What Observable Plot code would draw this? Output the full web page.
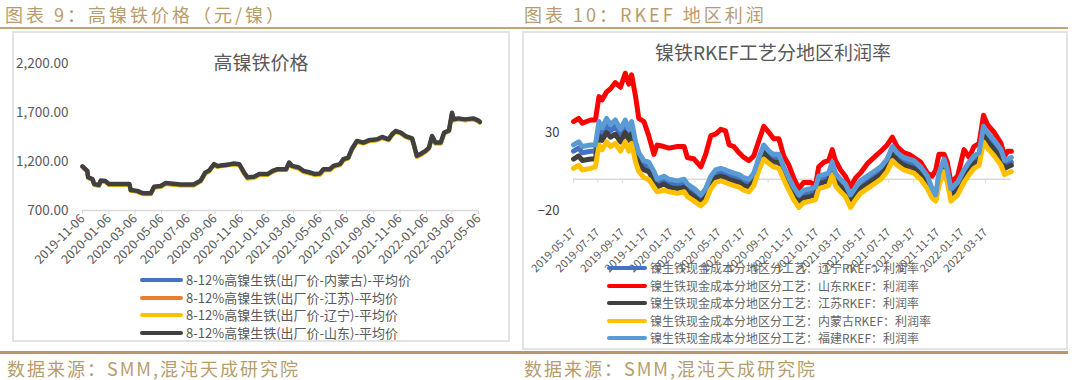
<!DOCTYPE html>
<html><head><meta charset="utf-8">
<script src="https://cdn.jsdelivr.net/npm/d3@7"></script>
<script src="https://cdn.jsdelivr.net/npm/@observablehq/plot@0.6"></script>
<style>
body{margin:0;background:#fff;width:1080px;height:380px;overflow:hidden;position:relative;font-family:"Noto Sans CJK SC",sans-serif;}
.abs{position:absolute;}
.hdr{font-size:18px;line-height:24px;color:#b79d6e;letter-spacing:3px;white-space:nowrap;}
.rule{background:#c2a574;}
.box{border:2px solid #e3e3e3;box-sizing:border-box;}
.ttl{font-size:19px;line-height:26px;color:#595959;white-space:nowrap;transform:translateX(-50%);}
.row{position:absolute;white-space:nowrap;display:flex;align-items:center;height:16px;line-height:16px;}
.sw{display:inline-block;height:4px;border-radius:2px;margin-right:3px;}
.ftr{font-size:18px;line-height:24px;color:#b79d6e;letter-spacing:2px;white-space:nowrap;}
</style></head><body>
<div class="abs hdr" style="left:5px;top:2px;">图表 9：高镍铁价格（元/镍）</div>
<div class="abs hdr" style="left:524px;top:2px;">图表 10：RKEF 地区利润</div>
<div class="abs rule" style="left:0;top:27px;width:1068px;height:2px;"></div>
<div class="abs box" style="left:12px;top:31px;width:498px;height:311px;"></div>
<div class="abs box" style="left:522px;top:31px;width:546px;height:319px;"></div>
<div id="left" class="abs" style="left:13px;top:32px;"></div>
<div id="right" class="abs" style="left:523px;top:32px;"></div>
<div class="abs ttl" style="left:261px;top:49px;">高镍铁价格</div>
<div class="abs ttl" style="left:773px;top:39px;">镍铁RKEF工艺分地区利润率</div>
<div id="legL" class="abs" style="left:140px;top:0;font-size:13px;color:#595959;"></div>
<div id="legR" class="abs" style="left:607px;top:0;font-size:12px;color:#666;"></div>
<div class="abs rule" style="left:0;top:351px;width:1068px;height:3px;background:#b8976a;"></div>
<div class="abs ftr" style="left:7px;top:356px;">数据来源：SMM,混沌天成研究院</div>
<div class="abs ftr" style="left:524px;top:356px;">数据来源：SMM,混沌天成研究院</div>
<script>
// ---------- Chart 9: high nickel pig iron price ----------
const priceDates = ["2019-11-06","2019-11-17","2019-11-19","2019-11-29","2019-12-03","2019-12-14","2019-12-18","2019-12-29","2020-01-06","2020-02-22",
"2020-02-25","2020-03-11","2020-03-19","2020-03-26","2020-04-11","2020-04-19","2020-05-04","2020-05-15","2020-06-19","2020-07-19",
"2020-08-04","2020-08-15","2020-08-23","2020-09-04","2020-09-12","2020-10-12","2020-10-20","2020-11-01","2020-11-12","2020-11-20",
"2020-12-05","2020-12-17","2021-01-05","2021-01-17","2021-01-28","2021-02-17","2021-02-24","2021-03-03","2021-03-18","2021-03-29",
"2021-04-13","2021-04-25","2021-05-06","2021-05-14","2021-05-29","2021-06-06","2021-06-21","2021-06-29","2021-07-10","2021-07-18",
"2021-07-30","2021-08-14","2021-08-26","2021-09-15","2021-09-26","2021-10-11","2021-10-19","2021-10-27","2021-11-08","2021-11-19",
"2021-12-04","2021-12-08","2021-12-15","2021-12-23","2022-01-04","2022-01-12","2022-01-19","2022-01-27","2022-02-08","2022-02-16",
"2022-02-27","2022-03-06","2022-03-10","2022-03-20","2022-04-05","2022-04-24","2022-05-05","2022-05-09"];
const priceNeimenggu = [1143,1098,1034,1013,963,953,998,993,963,963, 903,893,878,868,868,936,943,973,958,958, 998,1081,1098,1166,1148,1166,1173,1166,1080,1028, 1036,1064,1065,1098,1115,1115,1183,1147,1131,1097, 1080,1064,1070,1114,1115,1148,1166,1216,1233,1318, 1403,1386,1409,1420,1443,1420,1471,1504,1488,1453, 1430,1368,1250,1268,1302,1335,1453,1386,1386,1488, 1510,1689,1622,1633,1622,1632,1612,1597];
const priceJiangsu = [1146,1101,1036,1016,966,956,1001,996,966,966, 906,896,881,871,871,939,946,976,961,961, 1001,1084,1101,1169,1151,1169,1176,1169,1084,1034, 1041,1068,1068,1101,1118,1118,1186,1151,1135,1101, 1084,1068,1074,1118,1118,1151,1169,1220,1236,1321, 1406,1389,1412,1423,1446,1423,1474,1507,1491,1456, 1433,1372,1254,1271,1305,1338,1456,1389,1389,1491, 1513,1693,1626,1636,1626,1636,1616,1601];
const priceLiaoning = [1142,1097,1032,1010,962,950,995,990,960,960, 900,890,875,865,865,933,940,970,955,955, 995,1078,1095,1163,1145,1163,1170,1163,1076,1024, 1032,1060,1061,1095,1111,1112,1179,1143,1126,1092, 1074,1059,1064,1109,1110,1144,1162,1212,1229,1314, 1399,1382,1405,1416,1439,1416,1467,1501,1484,1450, 1426,1364,1247,1264,1298,1331,1449,1382,1382,1484, 1506,1685,1618,1629,1619,1629,1609,1594];
const priceShandong = [1150,1105,1040,1020,970,960,1005,1000,970,970, 910,900,885,875,875,943,950,980,965,965, 1005,1088,1105,1173,1155,1173,1180,1173,1088,1038, 1045,1072,1072,1105,1122,1122,1190,1155,1139,1105, 1088,1072,1078,1122,1122,1155,1173,1224,1240,1325, 1410,1393,1416,1427,1450,1427,1478,1511,1495,1460, 1437,1376,1258,1275,1309,1342,1460,1393,1393,1495, 1517,1697,1630,1640,1630,1640,1620,1605];
const priceSeriesNames = ["8-12%高镍生铁(出厂价-内蒙古)-平均价","8-12%高镍生铁(出厂价-江苏)-平均价","8-12%高镍生铁(出厂价-辽宁)-平均价","8-12%高镍生铁(出厂价-山东)-平均价"];
const priceColors = ["#4472c4","#ed7d31","#ffc000","#404040"];
const priceTicks = ["2019-11-06","2020-01-06","2020-03-06","2020-05-06","2020-07-06","2020-09-06","2020-11-06","2021-01-06","2021-03-06","2021-05-06","2021-07-06","2021-09-06","2021-11-06","2022-01-06","2022-03-06","2022-05-06"];
const priceYTicks = [700,1200,1700,2200];

// ---------- Chart 10: RKEF regional profit ----------
const profitDates = ["2019-05-17","2019-05-30","2019-06-08","2019-06-29","2019-07-11","2019-07-20","2019-07-28","2019-08-08","2019-08-18","2019-08-30",
"2019-09-12","2019-09-24","2019-10-03","2019-10-10","2019-10-20","2019-10-28","2019-11-10","2019-11-22","2019-12-05","2019-12-13",
"2019-12-30","2020-01-12","2020-02-02","2020-02-19","2020-02-27","2020-03-15","2020-04-01","2020-04-13","2020-04-26","2020-05-08",
"2020-05-21","2020-06-02","2020-06-11","2020-06-23","2020-07-06","2020-07-18","2020-07-31","2020-08-12","2020-08-25","2020-09-06",
"2020-09-19","2020-10-01","2020-10-14","2020-10-26","2020-11-08","2020-11-20","2020-12-03","2020-12-15","2021-01-01","2021-01-14",
"2021-01-22","2021-02-04","2021-02-16","2021-02-25","2021-03-05","2021-03-18","2021-03-30","2021-04-12","2021-04-25","2021-05-07",
"2021-05-24","2021-06-10","2021-06-27","2021-07-13","2021-07-26","2021-08-07","2021-08-24","2021-09-06","2021-09-18","2021-10-05",
"2021-10-22","2021-11-03","2021-11-12","2021-11-20","2021-12-03","2021-12-11","2021-12-20","2022-01-06","2022-01-22","2022-02-04",
"2022-02-16","2022-03-01","2022-03-12","2022-03-22","2022-04-08","2022-04-25","2022-05-04","2022-05-12","2022-05-21"];
const profitLiaoning = [18,20,17,18,18,33,29,35,31,34, 29,34,29,33,21,14,9,8,2,-2, 0,-2,-3,-2,-5,-8,-12,-8,0,4, 5,4,3,2,1,-1,-2,2,12,20, 16,14,14,6,-1,-7,-12,-9,-8,-7, 0,1,2,9,2,-2,-5,-12,-7,-3, 0,3,6,11,19,15,12,11,10,6, 0,-8,-12,2,11,4,-8,-4,4,9, 13,15,31,27,22,16,9,10,11];
const profitShandong = [37,39,36,38,38,53,51,56,58,62, 59,68,61,67,53,39,37,28,16,22, 21,20,21,21,14,13,8,16,28,29, 32,31,22,21,17,14,12,15,25,34, 30,26,26,15,9,1,-6,-2,-2,-4, 8,11,12,19,12,6,2,-5,1,4, 10,14,18,22,27,21,17,16,14,11, 4,2,6,16,16,11,-2,2,19,14, 21,23,41,35,30,23,15,18,18];
const profitJiangsu = [13,15,12,13,13,28,25,30,27,29, 24,30,25,29,17,10,6,5,-1,-5, -3,-5,-6,-5,-8,-11,-15,-11,-3,1, 2,1,0,-1,-2,-4,-5,-1,9,17, 13,11,11,3,-4,-10,-15,-12,-11,-10, -3,-2,-1,6,-1,-5,-8,-15,-10,-6, -3,0,3,8,16,12,9,8,7,3, -3,-10,-13,-1,8,1,-11,-7,1,6, 10,12,28,24,19,13,7,8,9];
const profitNeimenggu = [7,9,6,7,8,22,19,24,21,23, 18,24,18,23,11,5,1,0,-5,-8, -7,-8,-9,-8,-11,-14,-17,-14,-6,-2, -1,-2,-3,-4,-5,-7,-8,-4,6,13, 10,8,7,0,-7,-13,-18,-15,-14,-13, -6,-5,-4,3,-4,-8,-11,-18,-13,-9, -6,-3,0,5,12,9,6,5,4,0, -6,-12,-14,-4,5,-2,-14,-10,-2,3, 7,9,24,20,15,9,3,4,5];
const profitFujian = [22,24,21,22,22,37,33,39,35,38, 32,38,32,37,24,17,12,11,5,0, 2,0,-1,0,-3,-6,-10,-6,2,6, 7,6,5,4,3,1,0,4,14,22, 18,16,16,8,1,-5,-10,-7,-6,-5, 2,3,4,11,4,0,-3,-10,-5,-1, 2,5,8,13,21,17,14,13,12,8, 2,-6,-10,4,13,6,-6,-2,6,11, 15,17,34,30,25,19,12,13,14];
const profitSeriesNames = ["镍生铁现金成本分地区分工艺：辽宁RKEF：利润率","镍生铁现金成本分地区分工艺：山东RKEF：利润率","镍生铁现金成本分地区分工艺：江苏RKEF：利润率","镍生铁现金成本分地区分工艺：内蒙古RKEF：利润率","镍生铁现金成本分地区分工艺：福建RKEF：利润率"];
const profitColors = ["#4472c4","#ff0000","#404040","#ffc000","#5b9bd5"];
const profitTicks = ["2019-05-17","2019-07-17","2019-09-17","2019-11-17","2020-01-17","2020-03-17","2020-05-17","2020-07-17","2020-09-17","2020-11-17","2021-01-17","2021-03-17","2021-05-17","2021-07-17","2021-09-17","2021-11-17","2022-01-17","2022-03-17"];
const profitYTicks = [-20, 30];

// ---------- build ----------
const parse = d3.utcParse("%Y-%m-%d");
const fmt = d3.utcFormat("%Y-%m-%d");
const FONT = "'Noto Sans CJK SC', sans-serif";

function rows(dates, values) { return dates.map((d, i) => ({date: parse(d), value: values[i]})); }

const priceSeries = [priceNeimenggu, priceJiangsu, priceLiaoning, priceShandong];
const pTicks = priceTicks.map(parse);
const leftChart = Plot.plot({
  width: 496, height: 238, marginLeft: 69, marginRight: 31, marginTop: 31, marginBottom: 60,
  style: {fontFamily: FONT, background: "transparent", color: "#595959"},
  x: {type: "utc", domain: [pTicks[0], pTicks[pTicks.length - 1]]},
  y: {domain: [priceYTicks[0], priceYTicks[priceYTicks.length - 1]]},
  marks: [
    Plot.ruleY([priceYTicks[0]], {stroke: "#d9d9d9", strokeWidth: 1.5}),
    Plot.axisX({ticks: pTicks, tickFormat: fmt, tickRotate: -45, tickSize: 4, tickPadding: 2, stroke: "#d9d9d9", fill: "#595959", fontSize: 12.5, label: null}),
    Plot.axisY({ticks: priceYTicks, tickFormat: d3.format(",.2f"), tickSize: 0, tickPadding: 14, fill: "#595959", fontSize: 13.5, label: null}),
    ...priceSeries.map((s, i) => Plot.line(rows(priceDates, s), {x: "date", y: "value", stroke: priceColors[i], strokeWidth: i === 3 ? 4.5 : 4, strokeLinejoin: "round"}))
  ]
});
document.getElementById("left").appendChild(leftChart);

const profitSeries = [profitLiaoning, profitShandong, profitJiangsu, profitNeimenggu, profitFujian];
const rTicks = profitTicks.map(parse);
const rightChart = Plot.plot({
  width: 543, height: 243, marginLeft: 50, marginRight: 81, marginTop: 22, marginBottom: 65,
  style: {fontFamily: FONT, background: "transparent", color: "#595959"},
  x: {type: "utc", domain: [rTicks[0], rTicks[rTicks.length - 1]]},
  y: {domain: [-20, 80]},
  marks: [
    Plot.ruleY([0], {x1: parse(profitDates[0]), x2: parse(profitDates[profitDates.length - 1]), stroke: "#d9d9d9", strokeWidth: 1.5}),
    Plot.ruleX(rTicks, {y1: 0, y2: -2.6, stroke: "#d9d9d9"}),
    Plot.axisX({ticks: rTicks, tickFormat: fmt, tickRotate: -45, tickSize: 0, tickPadding: 20, fill: "#595959", fontSize: 11, label: null}),
    Plot.axisY({ticks: profitYTicks, tickSize: 0, tickPadding: 14, fill: "#404040", fontSize: 13, label: null}),
    ...profitSeries.map((s, i) => Plot.line(rows(profitDates, s), {x: "date", y: "value", stroke: profitColors[i], strokeWidth: 5, strokeLinejoin: "round"}))
  ]
});
document.getElementById("right").appendChild(rightChart);

// legends
function legend(el, names, colors, tops, swW) {
  names.forEach((n, i) => {
    const r = document.createElement("div");
    r.className = "row";
    r.style.top = (tops[i] - 8) + "px";
    r.innerHTML = `<span class="sw" style="width:${swW}px;background:${colors[i]}"></span><span>${n}</span>`;
    el.appendChild(r);
  });
}
legend(document.getElementById("legL"), priceSeriesNames, priceColors, [280, 297.5, 315, 332.5], 43);
legend(document.getElementById("legR"), profitSeriesNames, profitColors, [268, 285.5, 303, 320.5, 338], 40);
</script>
</body></html>
